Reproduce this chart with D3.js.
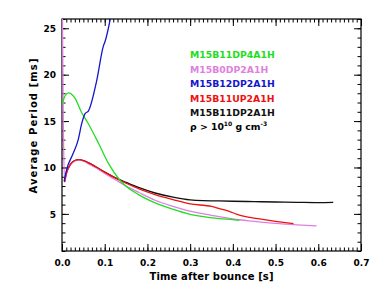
<!DOCTYPE html>
<html><head><meta charset="utf-8">
<script src="https://cdn.jsdelivr.net/npm/d3@7"></script>
<style>body{margin:0;background:#fff}svg text{font-family:"DejaVu Sans",sans-serif;font-weight:bold}</style>
</head><body>
<svg id="c" width="380" height="291"></svg>
<script>
// ---- data ----
const xMajorTicks = [0.0, 0.1, 0.2, 0.3, 0.4, 0.5, 0.6, 0.7];
const yMajorTicks = [5, 10, 15, 20, 25];
const seriesNames = ["M15B11DP4A1H", "M15B0DP2A1H", "M15B12DP2A1H", "M15B11UP2A1H", "M15B11DP2A1H"];
const seriesColors = ["#22dd22", "#e07fe0", "#1515cc", "#ee1111", "#111111"];

const greenT = [0.0, 0.007, 0.015, 0.03, 0.046, 0.060, 0.085, 0.108, 0.136, 0.179, 0.218, 0.257, 0.300, 0.347, 0.393, 0.415];
const greenV = [16.8, 17.7, 18.05, 17.5, 15.9, 14.85, 12.66, 10.5, 8.6, 7.08, 6.19, 5.54, 4.95, 4.6, 4.4, 4.3];

const pinkT = [0.0, 0.003, 0.006, 0.01, 0.02, 0.03, 0.04, 0.05, 0.06, 0.08, 0.10, 0.124, 0.15, 0.179, 0.218, 0.26, 0.30, 0.35, 0.40, 0.45, 0.50, 0.55, 0.596];
const pinkV = [32, 15, 8.4, 9.3, 10.3, 10.7, 10.8, 10.7, 10.45, 9.95, 9.35, 8.7, 8.0, 7.33, 6.47, 5.82, 5.3, 4.85, 4.45, 4.2, 3.98, 3.82, 3.7];

const blueT = [0.005, 0.008, 0.011, 0.025, 0.038, 0.046, 0.054, 0.062, 0.081, 0.097, 0.101, 0.113];
const blueV = [8.5, 9.2, 9.8, 11.4, 13.0, 14.7, 15.8, 16.1, 19.3, 23.1, 23.6, 26.0];

const redT = [0.006, 0.01, 0.02, 0.03, 0.04, 0.05, 0.06, 0.08, 0.10, 0.124, 0.15, 0.179, 0.218, 0.26, 0.30, 0.35, 0.37, 0.39, 0.41, 0.44, 0.47, 0.50, 0.542];
const redV = [8.45, 9.35, 10.35, 10.75, 10.85, 10.75, 10.55, 10.05, 9.5, 8.88, 8.3, 7.73, 7.08, 6.54, 6.08, 5.8, 5.54, 5.3, 4.95, 4.62, 4.4, 4.2, 3.95];

const blackT = [0.006, 0.01, 0.02, 0.03, 0.04, 0.05, 0.06, 0.08, 0.10, 0.124, 0.15, 0.179, 0.218, 0.26, 0.30, 0.33, 0.36, 0.40, 0.45, 0.50, 0.55, 0.60, 0.635];
const blackV = [8.45, 9.35, 10.35, 10.75, 10.85, 10.75, 10.55, 10.05, 9.5, 8.92, 8.4, 7.85, 7.25, 6.8, 6.5, 6.42, 6.4, 6.36, 6.32, 6.28, 6.25, 6.22, 6.24];

// ---- layout ----
const svg = d3.select("#c");
const L = 62, R = 361, T = 19, B = 251;
const x = d3.scaleLinear().domain([0, 0.7]).range([L, R]);
const y = d3.scaleLinear().domain([1, 26]).range([B, T]);

svg.append("clipPath").attr("id", "clip").append("rect")
  .attr("x", L).attr("y", T).attr("width", R - L).attr("height", B - T);

const xMinor = d3.range(0, 71).map(i => i / 100);
const yMinor = d3.range(1, 27);

function axisG(axis, tx, ty) {
  const g = svg.append("g").attr("transform", `translate(${tx},${ty})`).call(axis);
  g.select(".domain").remove();
  g.selectAll("line").attr("stroke", "#000").attr("stroke-width", 1);
  return g;
}
// bottom
axisG(d3.axisBottom(x).tickValues(xMinor).tickSize(-3.5).tickFormat(""), 0, B);
const xb = axisG(d3.axisBottom(x).tickValues(xMajorTicks).tickSize(-7).tickPadding(0).tickFormat(d3.format(".1f")), 0, B);
xb.selectAll("text").attr("font-size", 9).attr("fill", "#000").attr("y", 15).attr("dy", null);
// top
axisG(d3.axisTop(x).tickValues(xMinor).tickSize(-3.5).tickFormat(""), 0, T);
axisG(d3.axisTop(x).tickValues(xMajorTicks).tickSize(-7).tickFormat(""), 0, T);
// left
axisG(d3.axisLeft(y).tickValues(yMinor).tickSize(-3.5).tickFormat(""), L, 0);
const yl = axisG(d3.axisLeft(y).tickValues(yMajorTicks).tickSize(-7).tickPadding(0).tickFormat(d3.format("d")), L, 0);
yl.selectAll("text").attr("font-size", 9).attr("fill", "#000").attr("x", -6).attr("dy", "0.35em");
// right
axisG(d3.axisRight(y).tickValues(yMinor).tickSize(-3.5).tickFormat(""), R, 0);
axisG(d3.axisRight(y).tickValues(yMajorTicks).tickSize(-7).tickFormat(""), R, 0);

// frame
svg.append("rect").attr("x", L).attr("y", T).attr("width", R - L).attr("height", B - T)
  .attr("fill", "none").attr("stroke", "#000").attr("stroke-width", 1.2);

// curves
const line = d3.line().x(d => x(d[0])).y(d => y(d[1])).curve(d3.curveMonotoneX);
const series = [
  [greenT, greenV], [pinkT, pinkV], [blueT, blueV], [redT, redV], [blackT, blackV]
];
const drawOrder = [4, 1, 3, 0, 2];
const plot = svg.append("g").attr("clip-path", "url(#clip)");
drawOrder.forEach(i => {
  const [ts, vs] = series[i];
  const pts = ts.map((t, k) => [t, vs[k]]);
  plot.append("path").attr("d", line(pts)).attr("fill", "none")
    .attr("stroke", seriesColors[i]).attr("stroke-width", 1.3);
});

// legend
const lg = svg.append("g");
seriesNames.forEach((n, i) => {
  lg.append("text").attr("x", 190).attr("y", 58 + i * 14.6).attr("font-size", 9.3)
    .attr("fill", seriesColors[i]).text(n);
});
const rho = lg.append("text").attr("x", 190).attr("y", 130).attr("font-size", 9.3).attr("fill", "#000");
rho.append("tspan").text("ρ > 10");
rho.append("tspan").attr("font-size", 6).attr("dy", -4).text("10");
rho.append("tspan").attr("dy", 4).text(" g cm");
rho.append("tspan").attr("font-size", 6).attr("dy", -4).text("-3");

// axis titles
svg.append("text").attr("x", 211.5).attr("y", 280).attr("text-anchor", "middle")
  .attr("font-size", 10).attr("textLength", 124).attr("lengthAdjust", "spacing")
  .attr("fill", "#000").text("Time after bounce [s]");
svg.append("text").attr("transform", "translate(37,126) rotate(-90)").attr("text-anchor", "middle")
  .attr("font-size", 10).attr("textLength", 135).attr("lengthAdjust", "spacing")
  .attr("fill", "#000").text("Average Period [ms]");
</script>
</body></html>
